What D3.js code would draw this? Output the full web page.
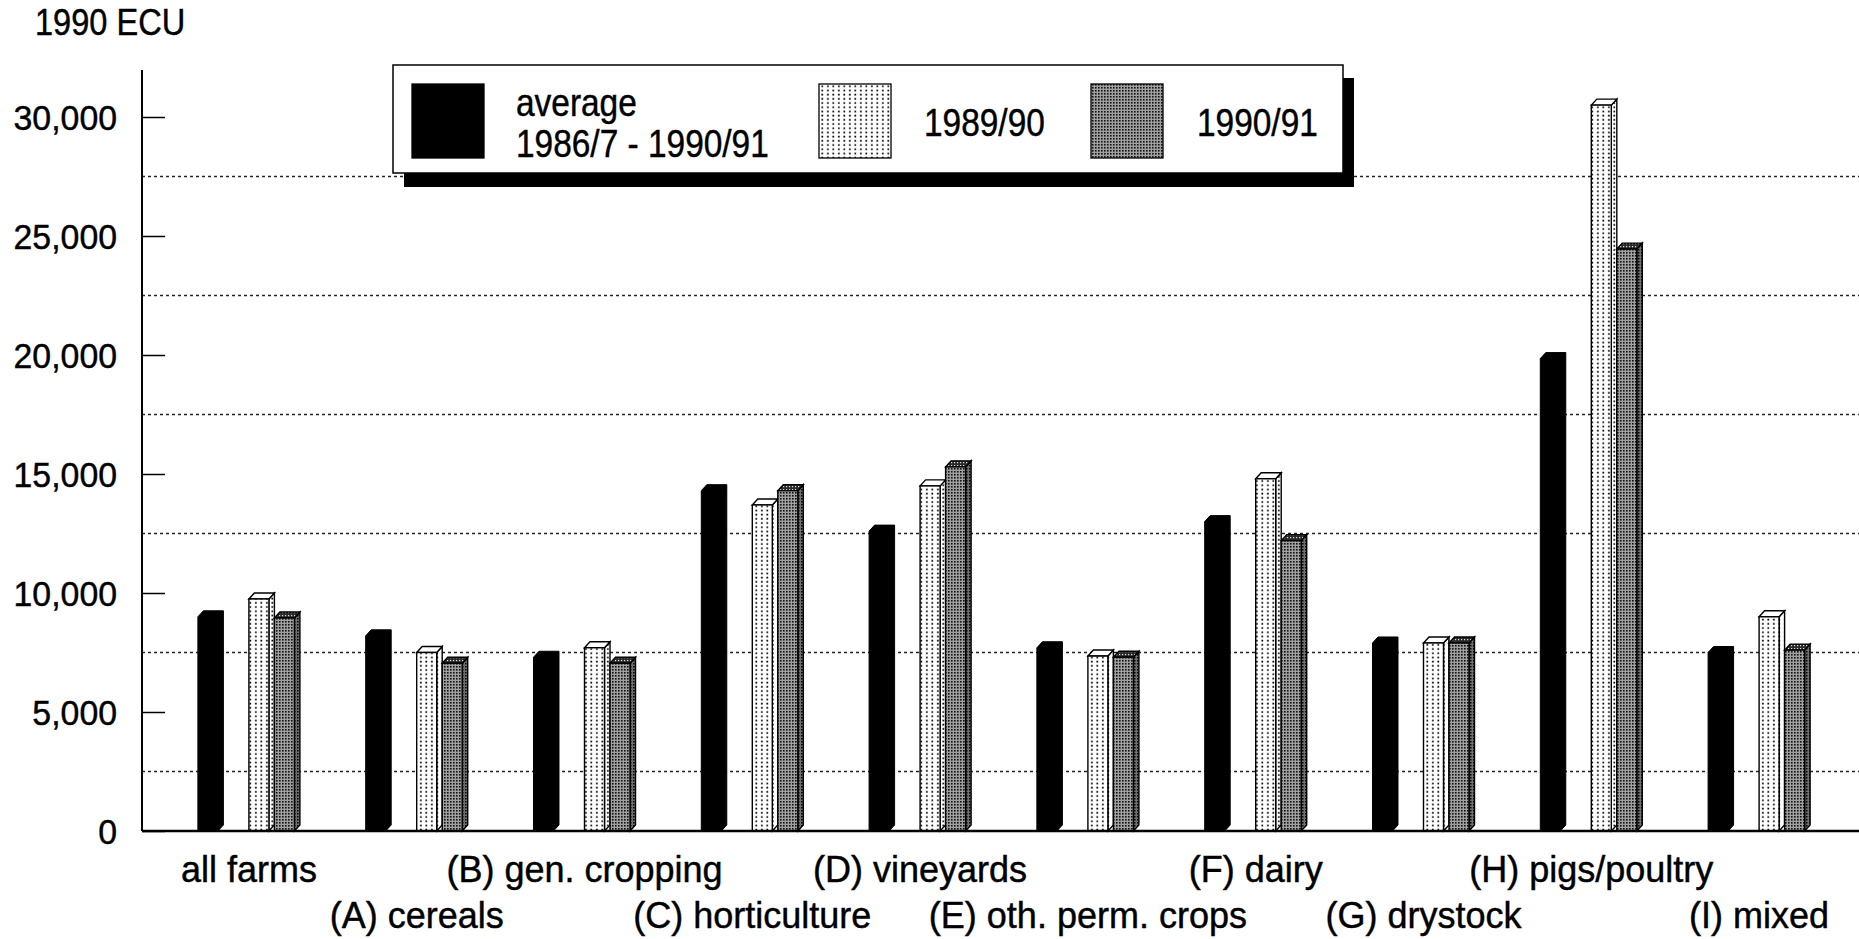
<!DOCTYPE html>
<html>
<head>
<meta charset="utf-8">
<script src="https://cdn.jsdelivr.net/npm/d3@7"></script>
<style>
  html, body { margin: 0; padding: 0; background: #fff; }
  svg { display: block; }
  text { font-family: "Liberation Sans", Arial, Helvetica, sans-serif; fill: #000; stroke: #000; stroke-width: 0.45px; }
</style>
</head>
<body>
<svg id="chart" width="1859" height="939"></svg>
<script>
// ---------------- data ----------------
const categories = ["all farms", "(A) cereals", "(B) gen. cropping", "(C) horticulture",
  "(D) vineyards", "(E) oth. perm. crops", "(F) dairy", "(G) drystock",
  "(H) pigs/poultry", "(I) mixed"];
const average8691 = [9000, 8200, 7300, 14300, 12600, 7700, 13000, 7900, 19850, 7500];
const year8990    = [9750, 7500, 7700, 13700, 14500, 7350, 14800, 7900, 30500, 9000];
const year9091    = [8950, 7050, 7050, 14300, 15300, 7300, 12200, 7900, 24450, 7600];
const seriesNames = ["average\n1986/7 - 1990/91", "1989/90", "1990/91"];
const tickValues  = [0, 5000, 10000, 15000, 20000, 25000, 30000];
const gridValues  = [2500, 7500, 12500, 17500, 22500, 27500];
const yAxisTitle  = "1990 ECU";

// ---------------- setup ----------------
const svg = d3.select("#chart");
const W = 1859;
const axisX = 142, baseY = 831;

const y = d3.scaleLinear().domain([0, 30000]).range([baseY, 117]);
const x0 = d3.scaleBand().domain(categories).range([165, 1843])
  .paddingInner(0.392).paddingOuter(0.196);
const slots = ["avg", "gap", "y8990", "y9091"];
const x1 = d3.scaleBand().domain(slots).range([0, x0.bandwidth()]);

const DX = 5.5, DY = 6;

// patterns
const defs = svg.append("defs");
const pDots = defs.append("pattern").attr("id", "dots").attr("patternUnits", "userSpaceOnUse")
  .attr("width", 5.5).attr("height", 4.2);
pDots.append("rect").attr("width", 5.5).attr("height", 4.2).attr("fill", "#fff");
pDots.append("rect").attr("x", 2).attr("y", 1.4).attr("width", 1.7).attr("height", 1.7).attr("fill", "#000");

const pGray = defs.append("pattern").attr("id", "gray").attr("patternUnits", "userSpaceOnUse")
  .attr("width", 3).attr("height", 3);
pGray.append("rect").attr("width", 3).attr("height", 3).attr("fill", "#a0a0a0");
pGray.append("rect").attr("width", 1.6).attr("height", 1.6).attr("fill", "#111");

const pGraySide = defs.append("pattern").attr("id", "graySide").attr("patternUnits", "userSpaceOnUse")
  .attr("width", 3).attr("height", 3);
pGraySide.append("rect").attr("width", 3).attr("height", 3).attr("fill", "#707070");
pGraySide.append("rect").attr("width", 1.5).attr("height", 1.5).attr("fill", "#000");

const pGrayTop = defs.append("pattern").attr("id", "grayTop").attr("patternUnits", "userSpaceOnUse")
  .attr("width", 3).attr("height", 3);
pGrayTop.append("rect").attr("width", 3).attr("height", 3).attr("fill", "#2a2a2a");
pGrayTop.append("rect").attr("width", 1.2).attr("height", 1.2).attr("fill", "#ddd");

// ---------------- gridlines ----------------
svg.append("g").selectAll("line").data(gridValues).join("line")
  .attr("x1", axisX).attr("x2", W)
  .attr("y1", d => y(d)).attr("y2", d => y(d))
  .attr("stroke", "#222").attr("stroke-width", 1.4).attr("stroke-dasharray", "3,3");

// ---------------- bars ----------------
const rows = categories.map((c, i) => ({
  cat: c,
  bars: [
    { key: "avg", value: average8691[i] },
    { key: "y8990", value: year8990[i] },
    { key: "y9091", value: year9091[i] }
  ]
}));

const barsG = svg.append("g");
rows.forEach(r => {
  r.bars.forEach(b => {
    const x = x0(r.cat) + x1(b.key);
    const w = x1.bandwidth() - DX;
    const yt = y(b.value);
    const g = barsG.append("g");
    if (b.key === "avg") {
      g.append("path")
        .attr("d", `M${x},${baseY}L${x},${yt}L${x + DX},${yt - DY}L${x + w + DX},${yt - DY}L${x + w + DX},${baseY - DY}L${x + w},${baseY}Z`)
        .attr("fill", "#000").attr("stroke", "#000").attr("stroke-width", 1);
    } else {
      const front = b.key === "y8990" ? "url(#dots)" : "url(#gray)";
      const side = b.key === "y8990" ? "url(#dots)" : "url(#graySide)";
      const top = b.key === "y8990" ? "#fff" : "url(#grayTop)";
      g.append("path")
        .attr("d", `M${x + w},${baseY}L${x + w},${yt}L${x + w + DX},${yt - DY}L${x + w + DX},${baseY - DY}Z`)
        .attr("fill", side).attr("stroke", "#000").attr("stroke-width", 1.4);
      g.append("path")
        .attr("d", `M${x},${yt}L${x + DX},${yt - DY}L${x + w + DX},${yt - DY}L${x + w},${yt}Z`)
        .attr("fill", top).attr("stroke", "#000").attr("stroke-width", 1.4);
      g.append("rect")
        .attr("x", x).attr("y", yt).attr("width", w).attr("height", baseY - yt)
        .attr("fill", front).attr("stroke", "#000").attr("stroke-width", 1.4);
    }
  });
});

// ---------------- axes ----------------
const TICK_SX = 0.94;
const yAxis = d3.axisLeft(y).tickValues(tickValues).tickFormat(d3.format(","))
  .tickSize(-23).tickPadding(25);
const yG = svg.append("g").attr("transform", `translate(${axisX},0)`).call(yAxis);
yG.select(".domain").remove();
yG.selectAll(".tick line").attr("stroke", "#000").attr("stroke-width", 1.5);
yG.selectAll(".tick text").attr("font-size", 36).attr("font-family", null)
  .attr("x", -25 / TICK_SX)
  .attr("dy", "0.36em")
  .attr("transform", `scale(${TICK_SX},1)`);

svg.append("line").attr("x1", axisX).attr("x2", axisX).attr("y1", 70).attr("y2", baseY)
  .attr("stroke", "#000").attr("stroke-width", 2);
svg.append("line").attr("x1", axisX).attr("x2", W).attr("y1", baseY).attr("y2", baseY)
  .attr("stroke", "#000").attr("stroke-width", 2.5);

const xAxis = d3.axisBottom(x0).tickSize(0).tickPadding(0);
const xG = svg.append("g").attr("transform", `translate(0,${baseY})`).call(xAxis);
xG.select(".domain").remove();
xG.selectAll(".tick text")
  .attr("font-size", 36).attr("font-family", null)
  .attr("dy", null)
  .attr("y", (d, i) => i % 2 === 0 ? 51 : 97);

// y title
svg.append("text").attr("transform", "translate(35,35) scale(0.88,1)")
  .attr("font-size", 37).text(yAxisTitle);

// ---------------- legend ----------------
const LEG_SX = 0.88;
const lg = svg.append("g");
lg.append("rect").attr("x", 404).attr("y", 78).attr("width", 950).attr("height", 109).attr("fill", "#000");
lg.append("rect").attr("x", 393).attr("y", 65).attr("width", 950).attr("height", 108)
  .attr("fill", "#fff").attr("stroke", "#000").attr("stroke-width", 1.5);

const legendItems = [
  { swatchX: 412, fill: "#000", textX: 516, lines: seriesNames[0].split("\n") },
  { swatchX: 819, fill: "url(#dots)", textX: 924, lines: [seriesNames[1]] },
  { swatchX: 1091, fill: "url(#gray)", textX: 1197, lines: [seriesNames[2]] }
];
legendItems.forEach(it => {
  lg.append("rect").attr("x", it.swatchX).attr("y", 84).attr("width", 72).attr("height", 74)
    .attr("fill", it.fill).attr("stroke", "#000").attr("stroke-width", 1.3);
  const ys = it.lines.length === 2 ? [116, 157] : [136];
  it.lines.forEach((t, k) => {
    lg.append("text").attr("transform", `translate(${it.textX},${ys[k]}) scale(${LEG_SX},1)`)
      .attr("font-size", 38).text(t);
  });
});
</script>
</body>
</html>
